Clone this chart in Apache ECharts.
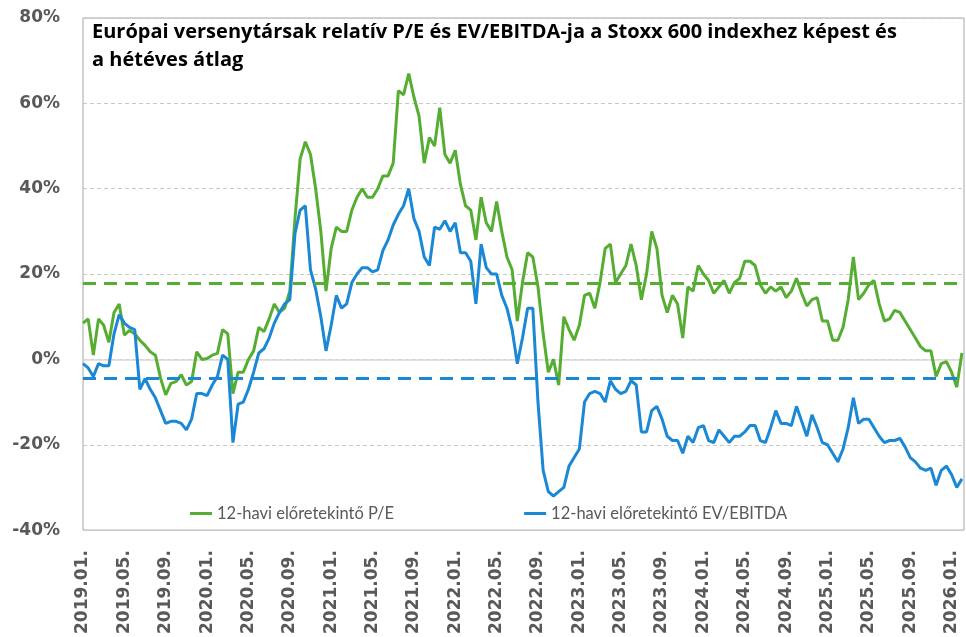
<!DOCTYPE html>
<html>
	<head>
		<meta charset="utf-8" />
		<title>Relatív P/E és EV/EBITDA</title>
		<style>
			html, body { margin: 0; padding: 0; background: #fff; }
			#main { width: 966px; height: 637px; }
		</style>
	</head>
	<body>
		<div id="main"></div>
		<script src="https://cdn.jsdelivr.net/npm/echarts@6/dist/echarts.min.js"></script>
		<script>
			// x tengely címkék, 4 havonta (0. hónap = 2019.01.)
			var tickLabels = ['2019.01.', '2019.05.', '2019.09.', '2020.01.', '2020.05.', '2020.09.',
				'2021.01.', '2021.05.', '2021.09.', '2022.01.', '2022.05.', '2022.09.',
				'2023.01.', '2023.05.', '2023.09.', '2024.01.', '2024.05.', '2024.09.',
				'2025.01.', '2025.05.', '2025.09.', '2026.01.'];
			var step = 0.5; // félhavi pontok

			// 12-havi előretekintő P/E (%)
			var pe = [8.5, 9.5, 1, 9.5, 8, 4, 11, 13, 5.7, 6.8,
				6, 4.5, 3.3, 1.8, 1, -4.4, -8.3, -5.6, -5.2, -3.6,
				-6, -5.2, 1.8, 0, 0.2, 1, 1.4, 7, 6, -8,
				-3, -3, 0, 2, 7.5, 6.5, 9.5, 13, 11, 12,
				16, 33, 47, 51, 48, 40, 30, 16, 26, 31,
				30, 30, 35, 38, 40, 38, 38, 40, 43, 43,
				46, 63, 62, 67, 61.5, 57, 46, 52, 50, 59,
				48, 46, 49, 41, 36, 35, 28, 38, 32, 30,
				37, 30, 24, 21, 9, 18, 25, 24, 17, 6,
				-3, 0, -6, 10, 7, 4.5, 8, 15, 15.5, 12,
				18, 26, 27, 18, 20, 22, 27, 22, 14, 20,
				30, 26, 15, 11, 15, 13, 5, 17, 16, 22,
				20, 18.5, 15.5, 17, 18.5, 15.5, 18, 19, 23, 23,
				22, 17.5, 15.5, 17, 16, 17, 14.5, 16, 19, 15.5,
				12.5, 14, 14.5, 9, 9, 4.5, 4.5, 7.5, 14, 24,
				14, 15.5, 17.5, 18.5, 13, 9, 9.5, 11.5, 11, 9,
				7, 5, 3, 2, 2, -4, -1, -0.5, -3, -6.5,
				1.5];

			// 12-havi előretekintő EV/EBITDA (%)
			var ev = [-1, -2, -4, -1, -1.5, -1.5, 6, 10.5, 8.5, 7.5,
				7, -7, -4.5, -7, -9, -12, -15, -14.5, -14.5, -15,
				-16.5, -14, -8, -8, -8.5, -6, -4, 1, 0, -19.5,
				-10.5, -10, -7, -3, 1.5, 2.5, 5, 8.5, 11, 13,
				14, 29.5, 35, 36, 21, 16.5, 10, 2, 8, 15,
				12, 13, 18, 20, 21.5, 21.5, 20.5, 21, 25.5, 28,
				31.5, 34, 36, 40, 33, 30, 24, 22, 31, 30.5,
				32.5, 30, 32, 25, 25, 23, 13, 27, 21.5, 20,
				20, 15, 12, 7, -1, 5, 12, 12, -10, -26,
				-31, -32, -31, -30, -25, -23, -21, -10, -8, -7.5,
				-8, -10, -5, -7, -8, -7.5, -5, -6, -17, -17,
				-12, -11, -14, -18, -19, -19, -22, -18, -19.5, -16,
				-15.5, -19, -19.5, -16.5, -18, -19.5, -18, -18, -17, -15.5,
				-15.5, -19, -19.5, -16, -12, -15, -15, -15.5, -11, -14.5,
				-18, -13, -16, -19.5, -20, -22, -24, -21, -16, -9,
				-15, -14, -14, -16, -18, -19.5, -19, -19, -18.5, -20.5,
				-23, -24, -25.5, -26, -25.5, -29.5, -26, -25, -27, -30,
				-28];

			// hétéves átlagok
			var avgPe = 17.8;
			var avgEv = -4.3;

			var green = '#55ad32';
			var blue = '#1a88d4';

			function toPoints(arr) {
				var out = [];
				for(var i = 0; i < arr.length; i++) {
					out.push([i * step, arr[i]]);
				}
				return out;
			}

			function avgLine(val, color) {
				return {
					silent: true,
					symbol: ['none', 'none'],
					label: { show: false },
					lineStyle: { color: color, type: [13, 8], width: 3 },
					data: [{ yAxis: val }]
				};
			}

			var myChart = echarts.init(document.getElementById('main'));
			var option = {
				animation: false,
				backgroundColor: '#fff',
				title: {
					text: 'Európai versenytársak relatív P/E és EV/EBITDA-ja a Stoxx 600 indexhez képest és\na hétéves átlag',
					left: 92,
					top: 18,
					padding: 0,
					textStyle: {
						fontFamily: 'Open Sans',
						fontSize: 20,
						fontWeight: 'bold',
						color: '#000',
						lineHeight: 28
					}
				},
				legend: {
					data: ['12-havi előretekintő P/E', '12-havi előretekintő EV/EBITDA'],
					left: 190,
					top: 505,
					padding: 0,
					icon: 'rect',
					itemWidth: 22,
					itemHeight: 3,
					itemGap: 130,
					textStyle: { fontFamily: 'Lato', fontSize: 16.5, color: '#595959' }
				},
				grid: {
					left: 83,
					right: 2,
					top: 18,
					bottom: 100,
					show: true,
					borderColor: '#a6a6a6',
					borderWidth: 1
				},
				xAxis: {
					type: 'value',
					min: 0,
					max: 85.2,
					interval: 4,
					axisLine: { show: false },
					axisTick: { show: false },
					splitLine: { show: false },
					axisLabel: {
						rotate: 90,
						margin: 20,
						fontFamily: 'DejaVu Sans',
						fontSize: 17,
						fontWeight: 'bold',
						color: '#595959',
						formatter: function(v) {
							if(v % 4 !== 0) {
								return '';
							}
							return tickLabels[v / 4] || '';
						}
					}
				},
				yAxis: {
					type: 'value',
					min: -40,
					max: 80,
					interval: 20,
					axisLine: { show: false },
					axisTick: { show: false },
					axisLabel: {
						margin: 23,
						fontFamily: 'DejaVu Sans',
						fontSize: 17,
						fontWeight: 'bold',
						color: '#595959',
						formatter: '{value}%'
					},
					splitLine: {
						lineStyle: { color: '#c8c8c8', type: [4, 3], width: 1 }
					}
				},
				series: [{
					name: 'nulla',
					type: 'line',
					data: [],
					silent: true,
					z: 1,
					markLine: {
						z: 1,
						silent: true,
						symbol: ['none', 'none'],
						label: { show: false },
						lineStyle: { color: '#d9d9d9', type: 'solid', width: 1.5 },
						data: [{ yAxis: 0 }]
					}
				}, {
					name: '12-havi előretekintő P/E',
					type: 'line',
					data: toPoints(pe),
					showSymbol: false,
					symbol: 'none',
					color: green,
					lineStyle: { color: green, width: 3 },
					markLine: avgLine(avgPe, green)
				}, {
					name: '12-havi előretekintő EV/EBITDA',
					type: 'line',
					data: toPoints(ev),
					showSymbol: false,
					symbol: 'none',
					color: blue,
					lineStyle: { color: blue, width: 3 },
					markLine: avgLine(avgEv, blue)
				}]
			};
			myChart.setOption(option);
		</script>
	</body>
</html>
